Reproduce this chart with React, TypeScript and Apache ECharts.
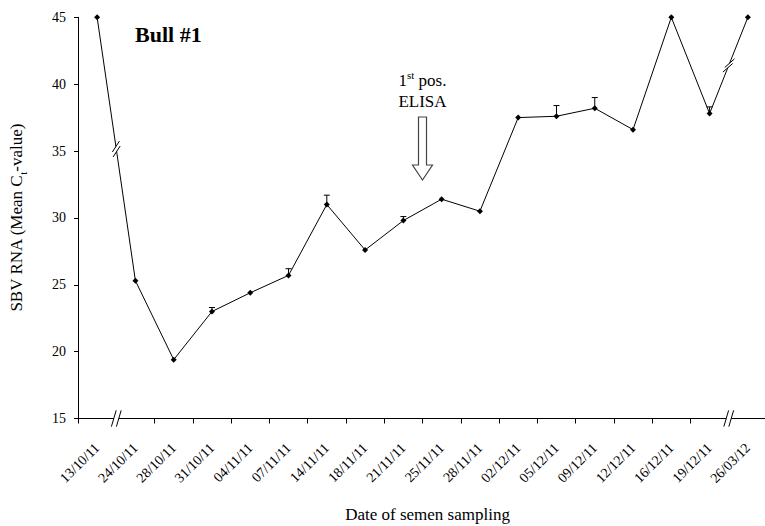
import React, { useEffect, useRef } from "react";
import * as echarts from "echarts";

const categories = [
  "13/10/11", "24/10/11", "28/10/11", "31/10/11", "04/11/11", "07/11/11",
  "14/11/11", "18/11/11", "21/11/11", "25/11/11", "28/11/11", "02/12/11",
  "05/12/11", "09/12/11", "12/12/11", "16/12/11", "19/12/11", "26/03/12",
];
const meanCt = [45, 25.3, 19.4, 23.0, 24.4, 25.7, 31.0, 27.6, 29.8, 31.4, 30.5, 37.5, 37.6, 38.2, 36.6, 45, 37.8, 45];
const errorUpper: (number | null)[] = [null, null, null, 23.3, null, 26.2, 31.7, null, 30.1, null, null, null, 38.4, 39.0, null, null, 38.3, null];
const yMin = 15;
const yMax = 45;
const yStep = 5;
const lineBreakSegments = [0, 16];
const axisBreakBoundaries = [1, 17];
const elisaBoundary = 9;

const FONT = "'Liberation Serif', 'Times New Roman', serif";

function breakMark(cx: number, cy: number, u: number[], s: number[], len: number, gap: number) {
  const un = Math.hypot(u[0], u[1]);
  const sn = Math.hypot(s[0], s[1]);
  const ux = (u[0] / un) * gap / 2, uy = (u[1] / un) * gap / 2;
  const sx = (s[0] / sn) * len / 2, sy = (s[1] / sn) * len / 2;
  const a1 = [cx - ux - sx, cy - uy - sy], a2 = [cx - ux + sx, cy - uy + sy];
  const b1 = [cx + ux - sx, cy + uy - sy], b2 = [cx + ux + sx, cy + uy + sy];
  return {
    type: "group",
    children: [
      { type: "polygon", shape: { points: [a1, a2, b2, b1] }, style: { fill: "#fff", stroke: null }, z: 100 },
      { type: "line", shape: { x1: a1[0], y1: a1[1], x2: a2[0], y2: a2[1] }, style: { stroke: "#000", lineWidth: 1 }, z: 101 },
      { type: "line", shape: { x1: b1[0], y1: b1[1], x2: b2[0], y2: b2[1] }, style: { stroke: "#000", lineWidth: 1 }, z: 101 },
    ],
  };
}

export default function App() {
  const ref = useRef<HTMLDivElement>(null);
  useEffect(() => {
    if (!ref.current) return;
    const chart = echarts.init(ref.current, undefined, { renderer: "svg" });
    const errData = errorUpper
      .map((e, i) => (e == null ? null : [i, meanCt[i], e]))
      .filter((d) => d != null);
    chart.setOption({
      animation: false,
      backgroundColor: "#fff",
      grid: {
        left: 78, top: 17.3, width: 689, height: 401.2,
        containLabel: false, outerBoundsMode: "none",
      },
      xAxis: {
        type: "category",
        data: categories,
        boundaryGap: true,
        name: "Date of semen sampling",
        nameLocation: "middle",
        nameGap: 87,
        nameTextStyle: { fontFamily: FONT, fontSize: 17, color: "#000", padding: [0, 0, 0, 10] },
        axisLine: { show: true, lineStyle: { color: "#000", width: 1 } },
        axisTick: {
          show: true,
          length: 5,
          lineStyle: { color: "#000" },
          interval: (index: number) => axisBreakBoundaries.indexOf(index) < 0,
        },
        axisLabel: {
          interval: 0,
          rotate: 45,
          margin: 27,
          fontFamily: FONT,
          fontSize: 14,
          color: "#000",
        },
        splitLine: { show: false },
      },
      yAxis: {
        type: "value",
        min: yMin,
        max: yMax,
        interval: yStep,
        name: "{a|SBV RNA (Mean C}{sub|t}{a|-value)}",
        nameLocation: "middle",
        nameGap: 50,
        nameTextStyle: {
          fontFamily: FONT,
          fontSize: 17,
          color: "#000",
          rich: {
            a: { fontFamily: FONT, fontSize: 17, color: "#000", lineHeight: 24, verticalAlign: "middle" },
            sub: { fontFamily: FONT, fontSize: 11, color: "#000", lineHeight: 24, verticalAlign: "bottom" },
          },
        },
        axisLine: { show: true, lineStyle: { color: "#000", width: 1 } },
        axisTick: { show: true, length: 4, lineStyle: { color: "#000" } },
        axisLabel: { margin: 12, fontFamily: FONT, fontSize: 14, color: "#000" },
        splitLine: { show: false },
      },
      series: [
        {
          type: "line",
          data: meanCt,
          symbol: "diamond",
          symbolSize: 6,
          itemStyle: { color: "#000" },
          lineStyle: { color: "#000", width: 1 },
          z: 2,
        },
        {
          type: "custom",
          data: errData,
          encode: { x: 0, y: [1, 2] },
          z: 3,
          renderItem: (_p: any, api: any) => {
            const base = api.coord([api.value(0), api.value(1)]);
            const top = api.coord([api.value(0), api.value(2)]);
            const hw = 3;
            return {
              type: "group",
              children: [
                { type: "line", shape: { x1: base[0], y1: base[1], x2: base[0], y2: top[1] }, style: { stroke: "#000", lineWidth: 1 } },
                { type: "line", shape: { x1: base[0] - hw, y1: top[1], x2: base[0] + hw, y2: top[1] }, style: { stroke: "#000", lineWidth: 1 } },
              ],
            };
          },
        },
      ],
    });

    const px = (i: number, v: number) => chart.convertToPixel({ seriesIndex: 0 }, [i, v]) as number[];
    const graphics: any[] = [];
    const axisY = px(0, yMin)[1];
    axisBreakBoundaries.forEach((b) => {
      const x = (px(b - 1, yMin)[0] + px(b, yMin)[0]) / 2;
      graphics.push(breakMark(x, axisY, [1, 0], [5, -17], 17, 5));
    });
    lineBreakSegments.forEach((i) => {
      const p0 = px(i, meanCt[i]);
      const p1 = px(i + 1, meanCt[i + 1]);
      const cx = (p0[0] + p1[0]) / 2;
      const cy = (p0[1] + p1[1]) / 2;
      const u = [p1[0] - p0[0], p1[1] - p0[1]];
      const s = i === 0 ? [0.55, -0.85] : [0.75, -0.66];
      graphics.push(breakMark(cx, cy, u, s, 13, 5));
    });
    const ax = (px(elisaBoundary - 1, yMin)[0] + px(elisaBoundary, yMin)[0]) / 2;
    graphics.push({
      type: "polygon",
      shape: {
        points: [
          [ax - 4, 117], [ax + 4, 117], [ax + 4, 165], [ax + 10, 165],
          [ax, 180], [ax - 10, 165], [ax - 4, 165],
        ],
      },
      style: { fill: "#fff", stroke: "#444", lineWidth: 1.2 },
      z: 100,
    });
    graphics.push({
      type: "text",
      x: ax,
      y: 80,
      style: {
        text: "{a|1}{sup|st}{a| pos.}",
        textAlign: "center",
        textVerticalAlign: "middle",
        rich: {
          a: { fontFamily: FONT, fontSize: 17, fill: "#000", lineHeight: 22, verticalAlign: "middle" },
          sup: { fontFamily: FONT, fontSize: 11, fill: "#000", lineHeight: 22, verticalAlign: "top" },
        },
      },
      z: 100,
    });
    graphics.push({
      type: "text",
      x: ax,
      y: 101,
      style: {
        text: "ELISA",
        fontFamily: FONT,
        fontSize: 17,
        fill: "#000",
        textAlign: "center",
        textVerticalAlign: "middle",
      },
      z: 100,
    });
    graphics.push({
      type: "text",
      x: 135,
      y: 34,
      style: {
        text: "Bull #1",
        fontFamily: FONT,
        fontSize: 22,
        fontWeight: "bold",
        fill: "#000",
        textAlign: "left",
        textVerticalAlign: "middle",
      },
      z: 100,
    });
    chart.setOption({ graphic: graphics });

    return () => chart.dispose();
  }, []);
  return (
    <div
      ref={ref}
      style={{ position: "fixed", left: 0, top: 0, width: 765, height: 526, background: "#fff" }}
    />
  );
}
